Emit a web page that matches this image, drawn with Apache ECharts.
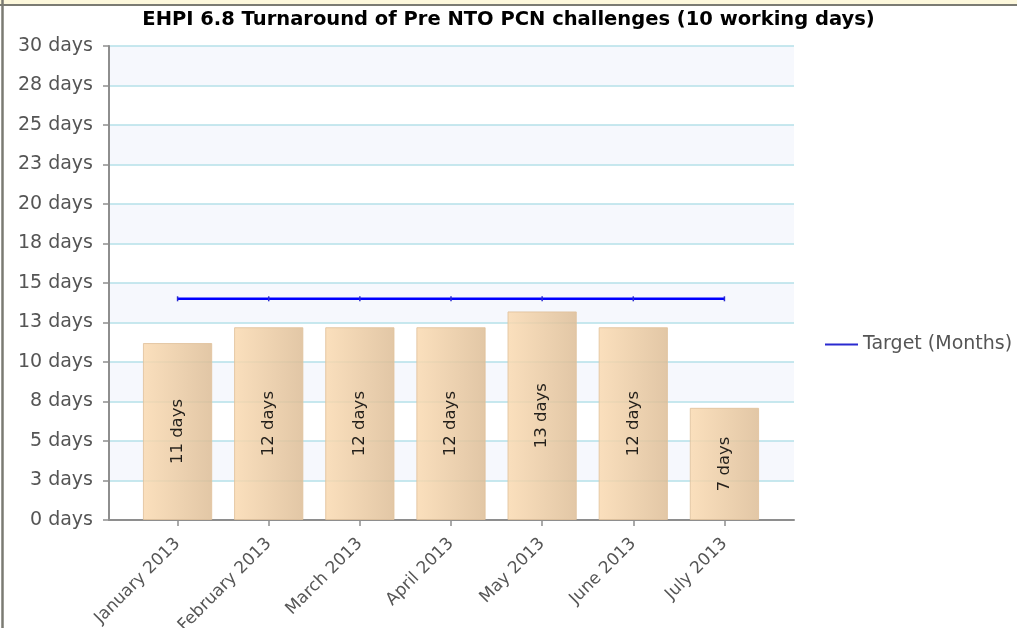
<!DOCTYPE html>
<html>
<head>
<meta charset="utf-8">
<script src="https://cdn.jsdelivr.net/npm/echarts@6/dist/echarts.min.js"></script>
<style>
  html, body { margin: 0; padding: 0; background: #fff; }
  #chart { width: 1017px; height: 628px; }
</style>
</head>
<body>
<div id="chart"></div>
<script>
// data
const months = ["January 2013", "February 2013", "March 2013", "April 2013", "May 2013", "June 2013", "July 2013"];
const turnaround = [11.2, 12.2, 12.2, 12.2, 13.2, 12.2, 7.1];
const target = [14, 14, 14, 14, 14, 14, 14];
const yMin = 0, yMax = 30, yStep = 2.5;

const chart = echarts.init(document.getElementById("chart"));
const font = "DejaVu Sans";

chart.setOption({
  animation: false,
  title: {
    text: "EHPI 6.8 Turnaround of Pre NTO PCN challenges (10 working days)",
    left: "center",
    top: 10,
    padding: 0,
    textStyle: { fontFamily: font, fontSize: 19.5, fontWeight: "bold", color: "#000" }
  },
  legend: {
    left: 820,
    top: 330,
    data: ["Target (Months)"],
    icon: "rect",
    itemWidth: 33,
    itemHeight: 2,
    itemGap: 8,
    textStyle: { fontFamily: font, fontSize: 19, color: "#555" }
  },
  grid: [
    // full plot frame (background bands, y axis)
    { left: 109, right: 223, top: 46, bottom: 108, outerBoundsMode: "none", containLabel: false },
    // months only span part of the frame
    { left: 132, right: 247, top: 46, bottom: 108, outerBoundsMode: "none", containLabel: false }
  ],
  xAxis: [
    {
      gridIndex: 0, type: "value", min: 0, max: 1,
      axisLine: { show: true, lineStyle: { color: "#8e8e8e", width: 2 } },
      axisTick: { show: false }, axisLabel: { show: false }, splitLine: { show: false }
    },
    {
      gridIndex: 1, type: "category", data: months,
      axisLine: { show: false },
      axisTick: { show: true, alignWithLabel: true, length: 6, lineStyle: { color: "#8e8e8e", width: 1.5 } },
      axisLabel: { rotate: 45, margin: 21, fontFamily: font, fontSize: 17, color: "#555" }
    }
  ],
  yAxis: [
    {
      gridIndex: 0, type: "value", min: yMin, max: yMax, interval: yStep,
      axisLine: { show: true, lineStyle: { color: "#8e8e8e", width: 2 } },
      axisTick: { show: true, length: 6, lineStyle: { color: "#8e8e8e", width: 1.5 } },
      axisLabel: {
        margin: 16, fontFamily: font, fontSize: 19, color: "#555",
        formatter: v => Math.round(v) + " days"
      },
      splitLine: { show: true, lineStyle: { color: "#b4e1e8", width: 1.5 } },
      splitArea: { show: true, areaStyle: { color: ["#ffffff", "#f6f8fd"] } }
    },
    { gridIndex: 1, type: "value", min: yMin, max: yMax, show: false }
  ],
  series: [
    {
      name: "Turnaround",
      type: "bar",
      xAxisIndex: 1, yAxisIndex: 1,
      data: turnaround,
      barWidth: "76%",
      itemStyle: {
        opacity: 0.85,
        borderColor: "#e0c29c",
        borderWidth: 1,
        color: new echarts.graphic.LinearGradient(0, 0, 1, 0, [
          { offset: 0, color: "#fadab1" },
          { offset: 1, color: "#ddbd96" }
        ])
      },
      label: {
        show: true, position: "inside", rotate: 90,
        fontFamily: font, fontSize: 16.5, color: "#000",
        formatter: p => Math.round(p.value) + " days"
      }
    },
    {
      name: "Target (Months)",
      type: "line",
      xAxisIndex: 1, yAxisIndex: 1,
      data: target,
      color: "#0000ff",
      lineStyle: { color: "#0000ff", width: 2.5 },
      symbol: "rect",
      symbolSize: [1.5, 5],
      itemStyle: { color: "#2a2ad0" }
    }
  ],
  graphic: [
    { type: "rect", shape: { x: 0, y: 0, width: 1017, height: 4 }, style: { fill: "#fdf8dc" }, silent: true },
    { type: "line", shape: { x1: 0, y1: 5, x2: 1017, y2: 5 }, style: { stroke: "#7b7b73", lineWidth: 2 }, silent: true },
    { type: "line", shape: { x1: 2.5, y1: 0, x2: 2.5, y2: 628 }, style: { stroke: "#7b7b73", lineWidth: 2.5 }, silent: true }
  ]
});
</script>
</body>
</html>
